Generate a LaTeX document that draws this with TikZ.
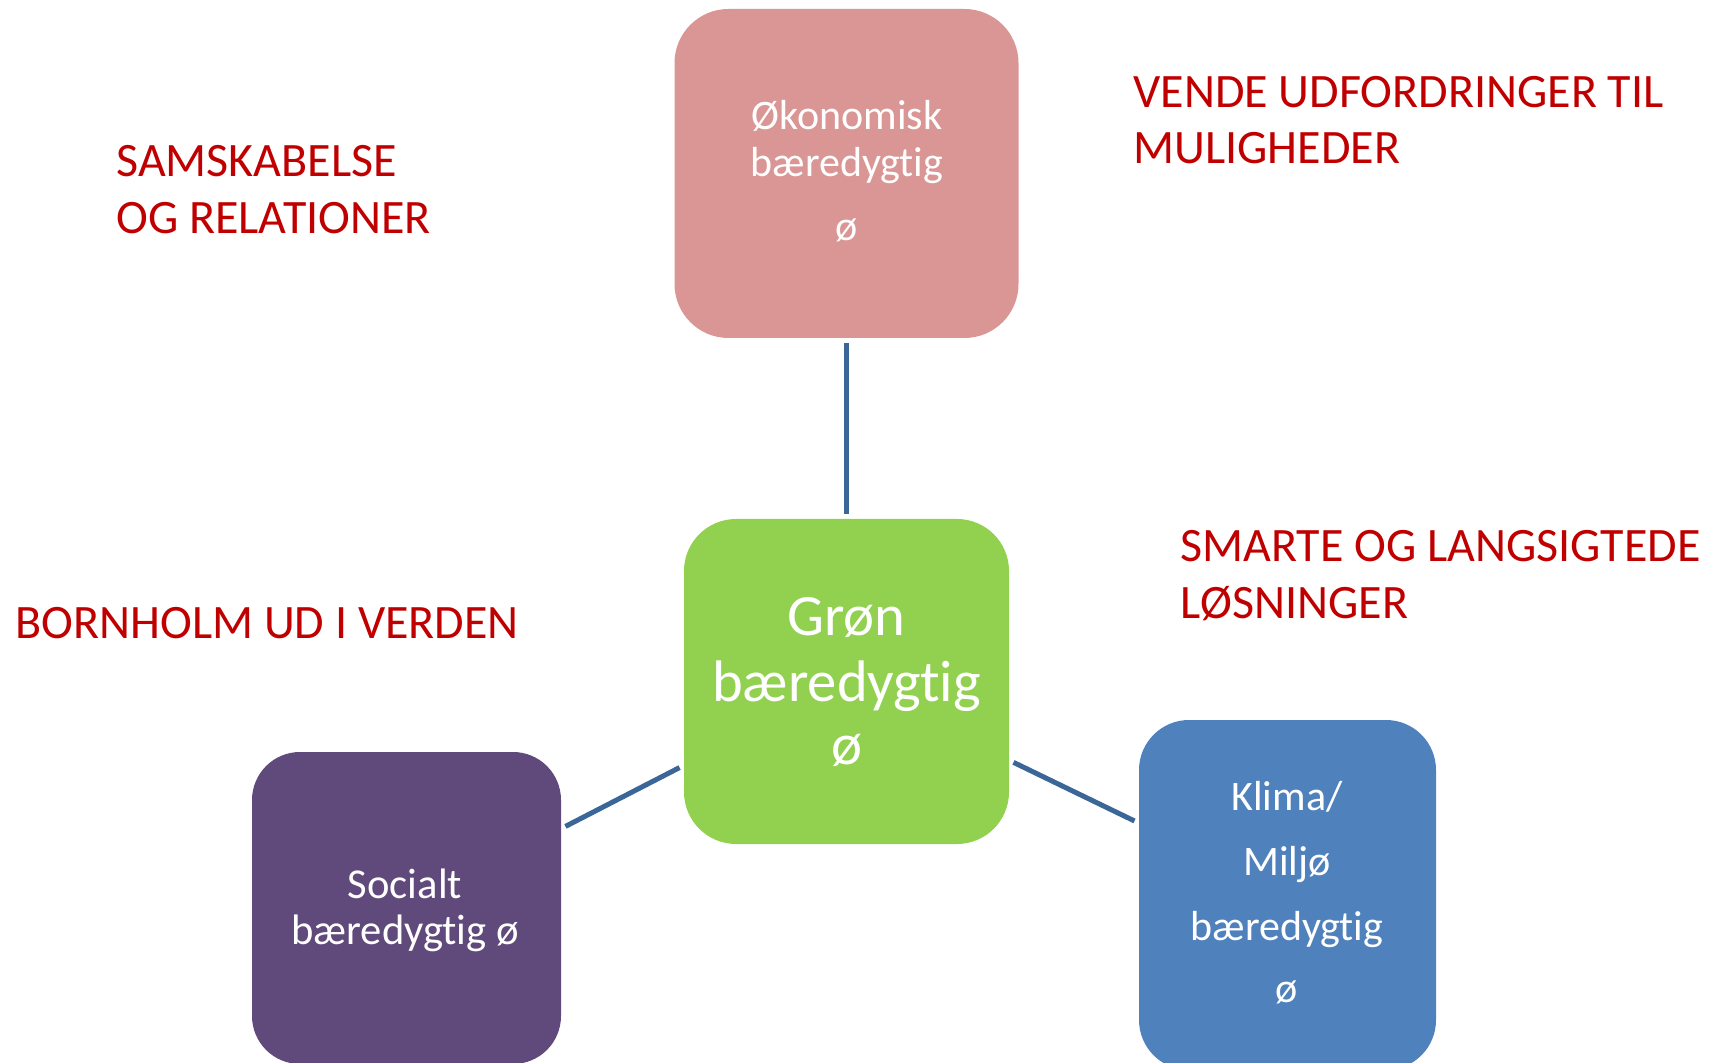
\documentclass[tikz,border=0pt]{standalone}
\usepackage{fontspec}
\setmainfont{Carlito}[Ligatures=NoCommon]
\definecolor{okopink}{HTML}{D99694}
\definecolor{grongreen}{HTML}{92D050}
\definecolor{socpurple}{HTML}{604A7B}
\definecolor{klimablue}{HTML}{4F81BD}
\definecolor{accred}{HTML}{C00000}
\definecolor{linkblue}{HTML}{3B6798}
\begin{document}
\begin{tikzpicture}[x=0.5pt,y=-0.5pt,
  box/.style={rectangle, inner sep=0pt, outer sep=0pt, draw=none},
  lbl/.style={anchor=base, inner sep=0pt, text=white},
  smallfont/.style={font=\fontsize{21}{25}\selectfont},
  bigfont/.style={font=\fontsize{29.3}{34}\selectfont},
  redtxt/.style={anchor=base west, inner sep=0pt, text=accred, font=\fontsize{24}{28}\selectfont},
  link/.style={draw=linkblue, line width=2.5pt, shorten <=2.5pt, shorten >=2.5pt}]
\useasboundingbox (0,0) rectangle (1719,1063);
\clip (0,0) rectangle (1719,1063);

% boxes
\node[box, fill=okopink, rounded corners=27pt, minimum width=172pt, minimum height=164.5pt] (oko) at (846.5,173.5) {};
\node[box, fill=grongreen, rounded corners=26pt, minimum width=162.5pt, minimum height=162.5pt] (gron) at (846.5,681.5) {};
\node[box, fill=socpurple, rounded corners=24pt, minimum width=154.5pt, minimum height=156pt] (soc) at (406.5,908) {};
\node[box, fill=klimablue, rounded corners=25pt, minimum width=148.5pt, minimum height=175pt] (klima) at (1287.5,895) {};

% connectors
\draw[link] (oko) -- (gron);
\draw[link] (gron) -- (soc);
\draw[link] (gron) -- (klima);

% box texts
\node[lbl, smallfont] (oko1) at (847,130) {Økonomisk};
\node[lbl, smallfont] (oko2) at (847,177) {bæredygtig};
\node[lbl, smallfont] (oko3) at (847,241) {ø};

\node[lbl, bigfont] (gron1) at (846.5,636) {Grøn};
\node[lbl, bigfont] (gron2) at (846.5,701) {bæredygtig};
\node[lbl, bigfont] (gron3) at (846.5,764) {ø};

\node[lbl, font=\fontsize{21.3}{25}\selectfont] (soc1) at (405,898) {Socialt};
\node[lbl, font=\fontsize{21.3}{25}\selectfont] (soc2) at (405,944) {bæredygtig ø};

\node[lbl, smallfont] (klima1) at (1287,810) {Klima/};
\node[lbl, smallfont] (klima2) at (1287,875) {Miljø};
\node[lbl, smallfont] (klima3) at (1287,940) {bæredygtig};
\node[lbl, smallfont] (klima4) at (1287,1002) {ø};

% red texts
\node[redtxt] (sam1) at (116,177) {SAMSKABELSE};
\node[redtxt] (sam2) at (116,234) {OG RELATIONER};
\node[redtxt] (ven1) at (1133,108) {VENDE UDFORDRINGER TIL};
\node[redtxt] (ven2) at (1133,164) {MULIGHEDER};
\node[redtxt] (sma1) at (1180,562) {SMARTE OG LANGSIGTEDE};
\node[redtxt] (sma2) at (1180,619) {LØSNINGER};
\node[redtxt] (bor1) at (15,639) {BORNHOLM UD I VERDEN};
\end{tikzpicture}
\end{document}
